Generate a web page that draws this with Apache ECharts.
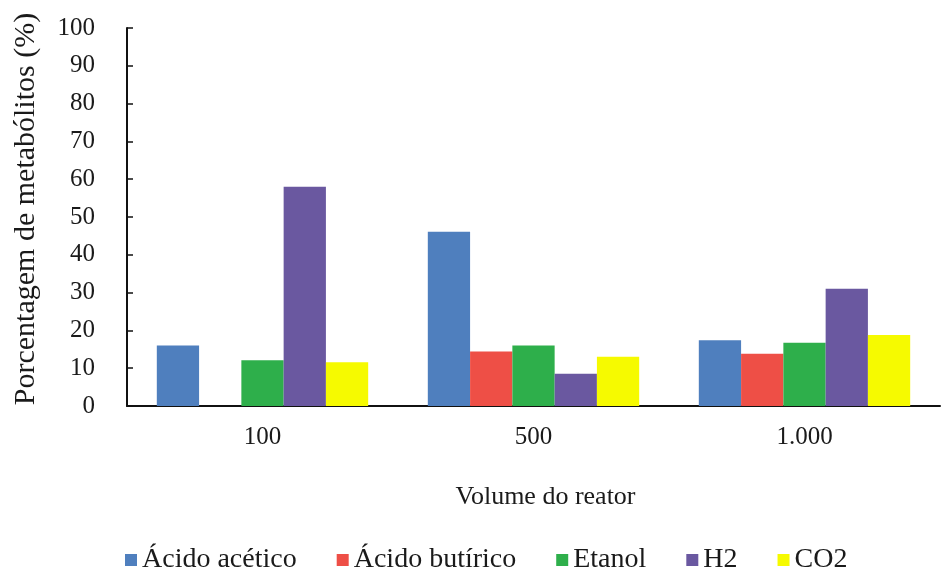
<!DOCTYPE html>
<html>
<head>
<meta charset="utf-8">
<script src="https://cdn.jsdelivr.net/npm/echarts@6/dist/echarts.min.js"></script>
<style>
html,body{margin:0;padding:0;background:#fff;}
#c{width:941px;height:573px;}
</style>
</head>
<body>
<div id="c"></div>
<script>
const categories = ['100', '500', '1.000'];
const seriesNames = ['Ácido acético', 'Ácido butírico', 'Etanol', 'H2', 'CO2'];
const acidoAcetico = [16.0, 46.1, 17.4];
const acidoButirico = [null, 14.4, 13.8];
const etanol = [12.1, 16.0, 16.7];
const h2 = [58.0, 8.5, 31.0];
const co2 = [11.6, 13.0, 18.8];
const yTicks = [0, 10, 20, 30, 40, 50, 60, 70, 80, 90, 100];
const colors = ['#4F7FBE', '#EE4F46', '#2EAF4B', '#6A58A0', '#F6FA00'];

const values = [acidoAcetico, acidoButirico, etanol, h2, co2];
const font = 'Liberation Serif';

const chart = echarts.init(document.getElementById('c'));
chart.setOption({
  animation: false,
  backgroundColor: '#fff',
  color: colors,
  textStyle: { fontFamily: font, color: '#1a1a1a' },
  grid: { left: 127, right: 1, top: 28, bottom: 167 },
  legend: {
    bottom: -6,
    left: 120,
    itemWidth: 12,
    itemHeight: 12,
    itemGap: 40,
    icon: 'rect',
    textStyle: { fontFamily: font, fontSize: 28, color: '#1a1a1a' },
    data: seriesNames
  },
  xAxis: {
    type: 'category',
    data: categories,
    name: 'Volume do reator',
    nameLocation: 'middle',
    nameGap: 78,
    nameTextStyle: { fontFamily: font, fontSize: 26, color: '#1a1a1a', padding: [0, 0, 0, 24] },
    axisLine: { lineStyle: { color: '#111', width: 2 } },
    axisTick: { show: false },
    axisLabel: { fontFamily: font, fontSize: 25, color: '#1a1a1a', margin: 19 }
  },
  yAxis: {
    type: 'value',
    min: yTicks[0],
    max: yTicks[yTicks.length - 1],
    interval: 10,
    name: 'Porcentagem de metabólitos (%)',
    nameLocation: 'middle',
    nameGap: 86,
    nameTextStyle: { fontFamily: font, fontSize: 30, color: '#1a1a1a', padding: [0, 0, 0, 16] },
    axisLine: { show: true, lineStyle: { color: '#111', width: 2 } },
    axisTick: { show: true, inside: true, length: 6, lineStyle: { color: '#111', width: 1.5 } },
    splitLine: { show: false },
    axisLabel: { fontFamily: font, fontSize: 25, color: '#1a1a1a', margin: 32 }
  },
  series: seriesNames.map((n, i) => ({
    name: n,
    type: 'bar',
    data: values[i],
    barGap: '0%',
    barCategoryGap: '22%',
    itemStyle: { color: colors[i] }
  }))
});
</script>
</body>
</html>
